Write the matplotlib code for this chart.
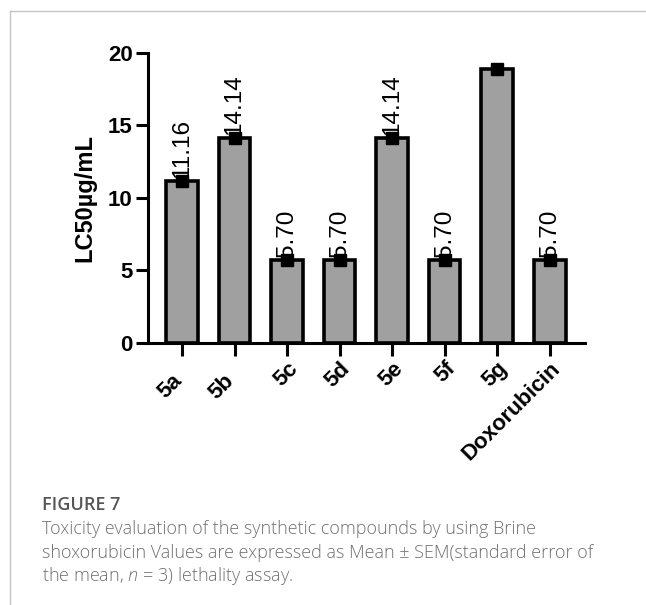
import matplotlib.pyplot as plt
from matplotlib.lines import Line2D
from matplotlib.transforms import ScaledTranslation

plt.rcParams['mathtext.fontset'] = 'custom'
plt.rcParams['mathtext.it'] = 'Open Sans:italic:light'
plt.rcParams['mathtext.rm'] = 'Open Sans:light'

# Daten
verbindungen = ['5a', '5b', '5c', '5d', '5e', '5f', '5g', 'Doxorubicin']
lc50_werte = [11.16, 14.14, 5.70, 5.70, 14.14, 5.70, 18.85, 5.70]
beschriftung = ['11.16', '14.14', '5.70', '5.70', '14.14', '5.70', '', '5.70']
y_ticks = [0, 5, 10, 15, 20]

fig = plt.figure(figsize=(6.46, 6.05), dpi=100)
ax = fig.add_axes([0.229, 0.433, 0.6765, 0.4798])

x = range(len(verbindungen))
ax.bar(x, lc50_werte, width=0.6, color='#a0a0a0', edgecolor='black',
       linewidth=2.6, zorder=2)
ax.plot(x, lc50_werte, linestyle='none', marker='s', markersize=8.5,
        color='black', zorder=3)

for xi, wert, text in zip(x, lc50_werte, beschriftung):
    if text:
        ax.text(xi, wert + 0.22, text, rotation=90, ha='center', va='bottom',
                fontsize=17.5, family='Liberation Sans', zorder=2.5)

ax.set_xlim(-0.65, 7.67)
ax.set_ylim(0, 20)
ax.set_yticks(y_ticks)
ax.set_xticks(list(x))
ax.set_xticklabels([])
for lbl in ax.get_yticklabels():
    lbl.set_fontsize(16)
    lbl.set_fontweight('bold')
    lbl.set_family('Liberation Sans')

# x-Beschriftung von Hand, 5a und 5b sitzen im Original etwas tiefer
for xi, name in zip(x, verbindungen):
    if xi < 2:
        dx, dy = -11, -27
    else:
        dx, dy = 0, -15
    versatz = ScaledTranslation(dx / 100, dy / 100, fig.dpi_scale_trans)
    ax.text(xi, 0, name, rotation=45, ha='right', va='top',
            rotation_mode='anchor', fontsize=16, fontweight='bold',
            family='Liberation Sans',
            transform=ax.get_xaxis_transform() + versatz)

ax.spines['top'].set_visible(False)
ax.spines['right'].set_visible(False)
ax.spines['left'].set_linewidth(2.2)
ax.spines['bottom'].set_linewidth(2.2)
ax.tick_params(axis='both', length=9, width=2.2, pad=2)

ax.set_ylabel('LC50µg/mL', fontsize=17, fontweight='bold',
              family='Liberation Sans', labelpad=8)

# Rahmen
fig.add_artist(Line2D([10 / 646, 1], [1 - 11 / 605, 1 - 11 / 605],
                      color='#c4c4c4', linewidth=1, transform=fig.transFigure))
fig.add_artist(Line2D([10 / 646, 10 / 646], [0, 1 - 11 / 605],
                      color='#c4c4c4', linewidth=1, transform=fig.transFigure))

# Bildunterschrift
fig.text(42 / 646, 1 - 505 / 605, 'FIGURE 7', fontsize=13, fontweight='semibold',
         family='Open Sans', color='#555555', va='center')
zeilen = ['Toxicity evaluation of the synthetic compounds by using Brine',
          'shoxorubicin Values are expressed as Mean ± SEM(standard error of',
          'the mean, $n$ = 3) lethality assay.']
for i, zeile in enumerate(zeilen):
    fig.text(42 / 646, 1 - (529 + 23.5 * i) / 605, zeile, fontsize=13,
             family='Open Sans', fontweight='light', color='#707070',
             va='center')

plt.savefig('out.png', dpi=100)
